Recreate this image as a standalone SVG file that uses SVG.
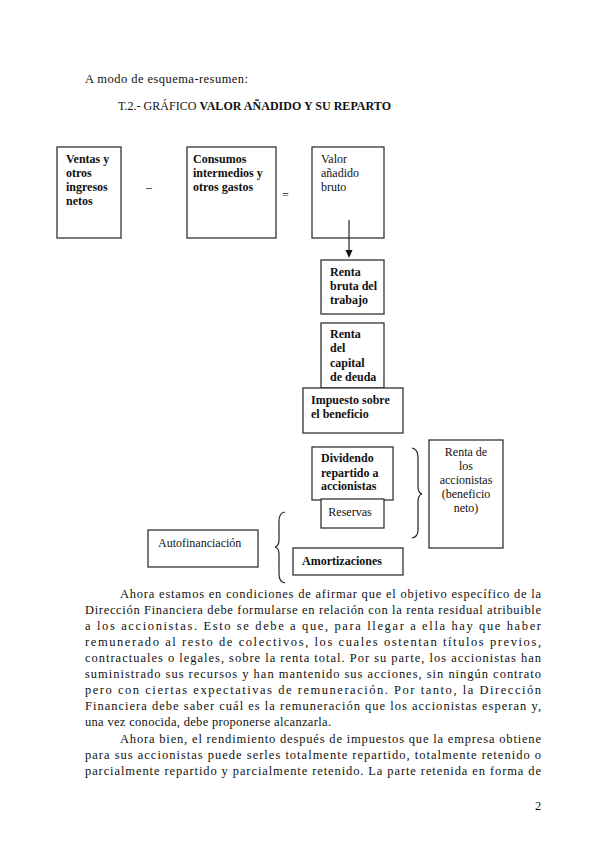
<svg xmlns="http://www.w3.org/2000/svg" width="599" height="848" viewBox="0 0 599 848">
<style>
.bx{fill:#fff;stroke:#333;stroke-width:1.3}
.t{font-family:"Liberation Serif","Times New Roman",serif;font-size:12px;fill:#111}
.b{font-weight:bold}
.p{font-family:"Liberation Serif","Times New Roman",serif;font-size:12.5px;fill:#111}
.ln{fill:none;stroke:#222;stroke-width:1.2}
</style>
<rect width="599" height="848" fill="#fff"/>
<text class="p" x="85" y="83" textLength="163" lengthAdjust="spacing">A modo de esquema-resumen:</text>
<text class="t" x="118" y="110" textLength="273" lengthAdjust="spacing">T.2.- GRÁFICO <tspan class="b">VALOR AÑADIDO Y SU REPARTO</tspan></text>

<g id="ventas">
<rect class="bx" x="57" y="147" width="64" height="91"/>
<text class="t b" x="66"><tspan x="66" y="163">Ventas y</tspan><tspan x="66" y="177">otros</tspan><tspan x="66" y="191">ingresos</tspan><tspan x="66" y="205">netos</tspan></text>
</g>
<text class="t" x="146" y="191">–</text>
<g id="consumos">
<rect class="bx" x="187" y="147" width="89" height="91"/>
<text class="t b"><tspan x="193" y="163">Consumos</tspan><tspan x="193" y="177">intermedios y</tspan><tspan x="193" y="191">otros gastos</tspan></text>
</g>
<text class="t" x="282" y="199">=</text>
<g id="valor">
<rect class="bx" x="312" y="147" width="72" height="91"/>
<text class="t"><tspan x="321" y="163">Valor</tspan><tspan x="321" y="177">añadido</tspan><tspan x="321" y="191">bruto</tspan></text>
</g>
<g id="renta-trabajo">
<rect class="bx" x="321" y="260" width="63" height="54"/>
<text class="t b"><tspan x="330" y="276">Renta</tspan><tspan x="330" y="290">bruta del</tspan><tspan x="330" y="304">trabajo</tspan></text>
</g>
<g id="renta-capital">
<rect class="bx" x="321" y="323" width="63" height="65"/>
<text class="t b"><tspan x="330" y="338">Renta</tspan><tspan x="330" y="352">del</tspan><tspan x="330" y="367">capital</tspan><tspan x="330" y="381">de deuda</tspan></text>
</g>
<g id="impuesto">
<rect class="bx" x="303" y="388" width="100" height="45"/>
<text class="t b"><tspan x="311" y="404">Impuesto sobre</tspan><tspan x="311" y="418">el beneficio</tspan></text>
</g>
<g id="dividendo">
<rect class="bx" x="312" y="447" width="81" height="53"/>
<text class="t b"><tspan x="321" y="462">Dividendo</tspan><tspan x="321" y="477">repartido a</tspan><tspan x="321" y="490">accionistas</tspan></text>
</g>
<g id="reservas">
<rect class="bx" x="321" y="499" width="63" height="29"/>
<text class="t" x="350" y="516" text-anchor="middle">Reservas</text>
</g>
<g id="renta-accionistas">
<rect class="bx" x="429" y="440" width="74" height="108"/>
<text class="t" text-anchor="middle"><tspan x="466" y="456">Renta de</tspan><tspan x="466" y="470">los</tspan><tspan x="466" y="484">accionistas</tspan><tspan x="466" y="498">(beneficio</tspan><tspan x="466" y="512">neto)</tspan></text>
</g>
<g id="autofinanciacion">
<rect class="bx" x="148" y="530" width="110" height="37"/>
<text class="t" x="158" y="547">Autofinanciación</text>
</g>
<g id="amortizaciones">
<rect class="bx" x="293" y="548" width="110" height="27"/>
<text class="t b" x="302" y="565">Amortizaciones</text>
</g>

<g id="connectors">
<line class="ln" x1="349" y1="220" x2="349" y2="251"/>
<polygon points="345.5,250 352.5,250 349,258" fill="#111"/>
<path class="ln" d="M412,448 Q418,449 418,458 L418,486 Q418,493 422,494 Q418,495 418,502 L418,530 Q418,537 412,538"/>
<path class="ln" d="M285,512 Q279,513 279,521 L279,540 Q279,546 275,547 Q279,548 279,554 L279,574 Q279,582 285,583"/>
</g>

<g id="texto">
<text class="p" x="120" y="598" textLength="421" lengthAdjust="spacing">Ahora estamos en condiciones de afirmar que el objetivo específico de la</text>
<text class="p" x="85" y="614" textLength="456" lengthAdjust="spacing">Dirección Financiera debe formularse en relación con la renta residual atribuible</text>
<text class="p" x="85" y="630" textLength="456" lengthAdjust="spacing">a los accionistas. Esto se debe a que, para llegar a ella hay que haber</text>
<text class="p" x="85" y="646" textLength="456" lengthAdjust="spacing">remunerado al resto de colectivos, los cuales ostentan títulos previos,</text>
<text class="p" x="85" y="662" textLength="456" lengthAdjust="spacing">contractuales o legales, sobre la renta total. Por su parte, los accionistas han</text>
<text class="p" x="85" y="678" textLength="456" lengthAdjust="spacing">suministrado sus recursos y han mantenido sus acciones, sin ningún contrato</text>
<text class="p" x="85" y="694" textLength="456" lengthAdjust="spacing">pero con ciertas expectativas de remuneración. Por tanto, la Dirección</text>
<text class="p" x="85" y="710" textLength="456" lengthAdjust="spacing">Financiera debe saber cuál es la remuneración que los accionistas esperan y,</text>
<text class="p" x="85" y="726" textLength="246" lengthAdjust="spacing">una vez conocida, debe proponerse alcanzarla.</text>
<text class="p" x="120" y="743" textLength="421" lengthAdjust="spacing">Ahora bien, el rendimiento después de impuestos que la empresa obtiene</text>
<text class="p" x="85" y="759" textLength="456" lengthAdjust="spacing">para sus accionistas puede serles totalmente repartido, totalmente retenido o</text>
<text class="p" x="85" y="775" textLength="456" lengthAdjust="spacing">parcialmente repartido y parcialmente retenido. La parte retenida en forma de</text>
</g>
<text class="p" x="535" y="810">2</text>
</svg>
